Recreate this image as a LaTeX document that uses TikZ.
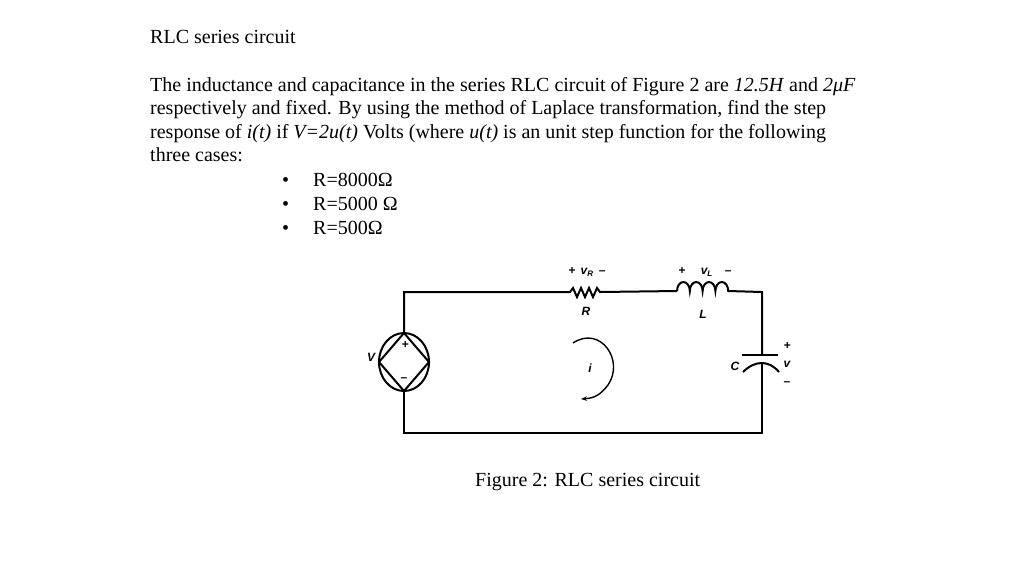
\documentclass[tikz,border=0pt]{standalone}
\usepackage{fontspec}
\setmainfont{Liberation Serif}
\setsansfont{Liberation Sans}
\usetikzlibrary{arrows.meta,shapes.geometric}
\begin{document}
\begin{tikzpicture}[x=1pt,y=-1pt,
  txt/.style={anchor=base west,inner sep=0pt,font=\fontsize{20}{24}\selectfont},
  lbl/.style={inner sep=0pt,font=\sffamily\bfseries\itshape\fontsize{12}{14}\selectfont},
  wire/.style={line width=2pt}]
\useasboundingbox (0,0) rectangle (1024,566);
\coordinate (tl) at (404,292);
\coordinate (bl) at (404,433);
\coordinate (br) at (762,433);
\coordinate (tr) at (762,292);
\coordinate (sn) at (404,333);
\coordinate (ss) at (404,391);
\node[lbl] (vplus) at (405,345) {+};
\node[lbl] (vminus) at (404,380) {\textbf{--}};
\node[lbl] (V) at (371,357) {V};
\draw[wire] (sn) -- (tl) -- (570,292)
  -- (573,288) -- (577,297) -- (581,288) -- (585,297) -- (589,288) -- (593,297) -- (597,288) -- (600,292)
  -- (677,291);
\draw[wire] (677,291) arc (180:360:6.4 and 9) arc (180:360:6.4 and 9) arc (180:360:6.4 and 9) arc (180:360:6.4 and 9) -- (tr) -- (762,355);
\draw[wire] (742,355) -- (778,355);
\draw[wire] (743,372) .. controls (755,360) and (769,360) .. (779,372);
\draw[wire] (762,363) -- (br) -- (bl) -- (ss);
\node[lbl] (vr) at (587,272) {+ \,v\textsubscript{R}\, --};
\node[lbl] (R) at (586,311) {R};
\node[lbl] (vl) at (705,272) {+ \quad v\textsubscript{L}\quad --};
\node[lbl] (L) at (703,314) {L};
\node[lbl] (C) at (735,366) {C};
\node[lbl] (cp) at (787,346) {+};
\node[lbl] (cv) at (787,364) {v};
\node[lbl] (cm) at (787,384) {--};
\node[lbl] (i) at (590,368) {i};
\draw[line width=1.4pt,-{Stealth[length=6pt]}] (573,343) .. controls (600,325) and (625,360) .. (608,385) .. controls (600,395) and (595,398) .. (581,399);
\node[txt] (t0) at (150,43) {RLC series circuit};
\node[txt] (p1) at (150,91) {The inductance and capacitance in the series RLC circuit of Figure 2 are \textit{12.5H} and \textit{2μF}};
\node[txt] (p2) at (150,114) {respectively and fixed. By using the method of Laplace transformation, find the step};
\node[txt] (p3) at (150,138) {response of \textit{i(t)} if \textit{V=2u(t)} Volts (where \textit{u(t)} is an unit step function for the following};
\node[txt] (p4) at (150,161) {three cases:};
\foreach \y/\t [count=\i] in {186/R=8000Ω,210/R=5000 Ω,234/R=500Ω}{
  \node[txt] (b\i) at (282,\y) {•};
  \node[txt] (r\i) at (313,\y) {\t};
}
\node[txt] (cap) at (475,486) {Figure 2: RLC series circuit};
\draw[line width=2pt] (sn) -- (429,362) -- (ss) -- (379,362) -- cycle;
\draw[line width=2pt] (429,362) arc[start angle=0,end angle=360,x radius=25pt,y radius=29pt];
\end{tikzpicture}
\end{document}
